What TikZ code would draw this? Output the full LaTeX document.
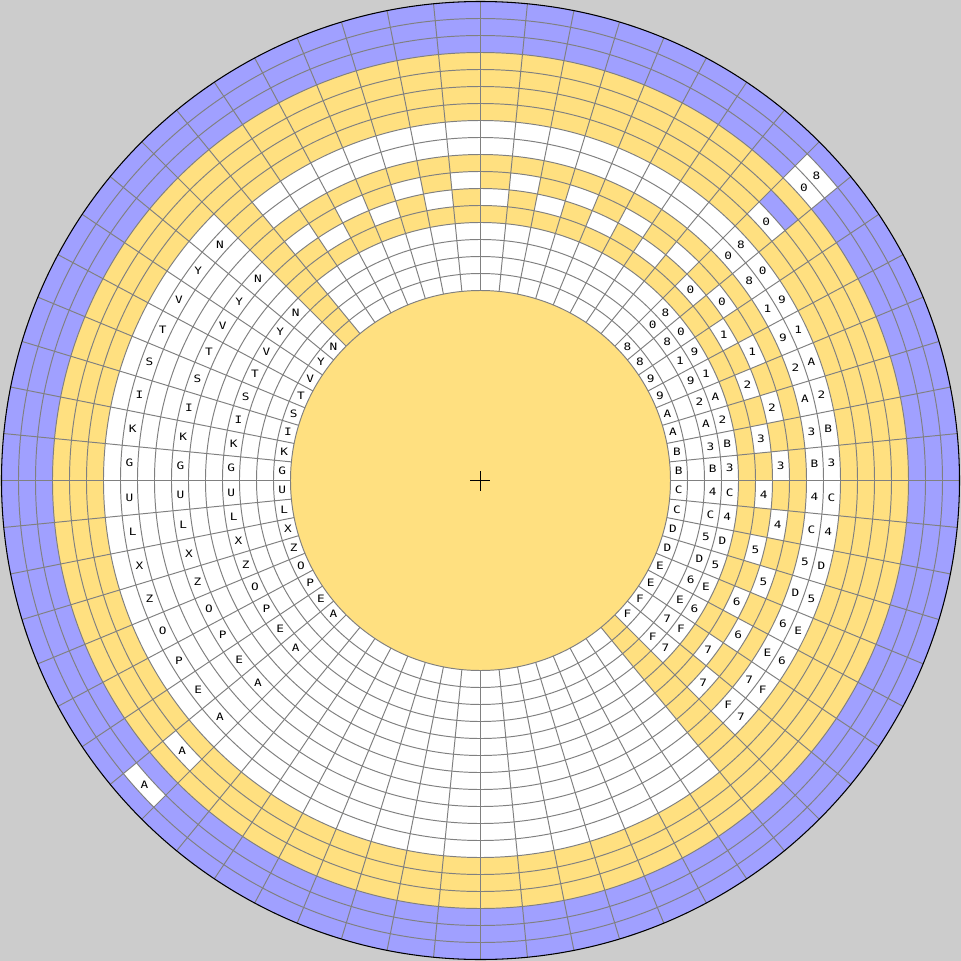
\documentclass[tikz,border=0pt]{standalone}
\usepackage{fontspec}
\setmonofont[FakeStretch=1.25]{DejaVu Sans Mono}
\definecolor{bgc}{RGB}{204,204,204}
\definecolor{pur}{RGB}{160,160,255}
\definecolor{yel}{RGB}{255,224,128}
\definecolor{gridc}{RGB}{128,128,128}
\tikzset{
  gridline/.style={draw=gridc, line width=0.55pt},
  lbl/.style={font=\ttfamily\fontsize{5.8}{5.8}\selectfont, inner sep=0pt, text=black},
}
\newcommand\annsec[5]{%
  \fill[#1] (#2:#4) arc[start angle=#2, end angle=#3, radius=#4] -- (#3:#5) arc[start angle=#3, end angle=#2, radius=#5] -- cycle;}
\newcommand\cellc[3]{%
  \pgfmathsetmacro\myA{5.625*#2}\pgfmathsetmacro\myB{5.625*(#2+1)}%
  \pgfmathsetmacro\myR{190+17*#3}\pgfmathsetmacro\myS{207+17*#3}%
  \annsec{#1}{\myA}{\myB}{\myR}{\myS}}
\newcommand\ctext[3]{%
  \node[lbl] (t-#1-#2) at ({5.625*(#1+0.5)}:{198.5+17*#2}) {#3};}
\begin{document}
\begin{tikzpicture}[x=0.02cm,y=0.02cm]
\fill[bgc] (-480.5,-480.5) rectangle (480.5,480.5);
\useasboundingbox (-480.5,-480.5) rectangle (480.5,480.5);
\fill[pur] (0,0) circle (479);
\fill[yel] (0,0) circle (428);
\fill[white] (0,0) circle (360);
\annsec{white}{135}{309.375}{360}{377}
\annsec{yel}{129.375}{135}{190}{428}
\annsec{yel}{309.375}{315}{190}{428}
% right and top band k4..k7
\annsec{yel}{-45}{129.375}{258}{275}
\annsec{yel}{-45}{129.375}{309}{326}
\foreach \s in {0,2,...,22,56,58,60,62} {\cellc{yel}{\s}{5}}
\foreach \s in {1,3,...,21,57,59,61,63} {\cellc{yel}{\s}{6}}
% exceptions
\cellc{white}{7}{11}
\cellc{pur}{7}{12}
\cellc{white}{7}{14}
\cellc{white}{7}{15}
\cellc{white}{39}{12}
\cellc{white}{39}{15}
% inner disk
\fill[yel] (0,0) circle (190);
% grid
\foreach \k in {0,...,16} {\draw[gridline] (0,0) circle ({190+17*\k});}
\foreach \a in {0,...,63} {\draw[gridline] ({5.625*\a}:190) -- ({5.625*\a}:479);}
\draw[black, line width=0.6pt] (0,0) circle (479);
\draw[black, line width=0.5pt] (-10,0) -- (10,0) (0,-10) -- (0,10);
% left letters
\foreach \s/\c in {24/N,25/Y,26/V,27/T,28/S,29/I,30/K,31/G,32/U,33/L,34/X,35/Z,36/O,37/P,38/E,39/A} {
  \foreach \k in {0,3,6,9} {\ctext{\s}{\k}{\c}}
}
\ctext{39}{12}{A}
\ctext{39}{15}{A}
% right digits
\foreach \s/\h/\l in {6/8/0,4/9/1,2/A/2,0/B/3,62/C/4,60/D/5,58/E/6,56/F/7} {
  \ctext{\s}{0}{\h}\ctext{\s}{2}{\h}\ctext{\s}{3}{\l}\ctext{\s}{6}{\l}\ctext{\s}{8}{\h}\ctext{\s}{9}{\l}
}
\foreach \s/\h/\l in {7/8/0,5/9/1,3/A/2,1/B/3,63/C/4,61/D/5,59/E/6,57/F/7} {
  \ctext{\s}{0}{\h}\ctext{\s}{2}{\l}\ctext{\s}{3}{\h}\ctext{\s}{5}{\l}\ctext{\s}{8}{\l}\ctext{\s}{9}{\h}
}
\ctext{7}{11}{0}
\ctext{7}{14}{0}
\ctext{7}{15}{8}
\end{tikzpicture}
\end{document}
